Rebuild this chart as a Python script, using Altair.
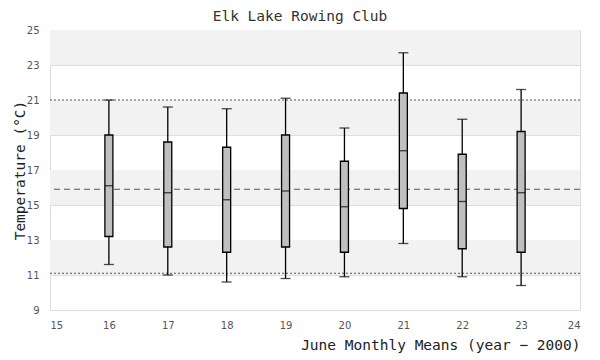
import altair as alt
import pandas as pd

# ---- data ----
years = [16, 17, 18, 19, 20, 21, 22, 23]
whisker_low = [11.6, 11.0, 10.6, 10.8, 10.9, 12.8, 10.9, 10.4]
q1 = [13.2, 12.6, 12.3, 12.6, 12.3, 14.8, 12.5, 12.3]
median = [16.1, 15.7, 15.3, 15.8, 14.9, 18.1, 15.2, 15.7]
q3 = [19.0, 18.6, 18.3, 19.0, 17.5, 21.4, 17.9, 19.2]
whisker_high = [21.0, 20.6, 20.5, 21.1, 19.4, 23.7, 19.9, 21.6]
overall_mean = [15.9]
bound_lines = [21.0, 11.1]
band_lo = [23, 19, 15, 11]
band_hi = [25, 21, 17, 13]
x_ticks = list(range(15, 25))
y_ticks = list(range(9, 26, 2))
x_domain = [15, 24]
y_domain = [9, 25]

MONO = "DejaVu Sans Mono"
SANS = "DejaVu Sans"

df = pd.DataFrame({"year": years, "lo": whisker_low, "q1": q1, "med": median,
                   "q3": q3, "hi": whisker_high})
bands = pd.DataFrame({"y": band_lo, "y2": band_hi,
                      "x": [x_domain[0]] * len(band_lo), "x2": [x_domain[1]] * len(band_lo)})
mean_df = pd.DataFrame({"v": overall_mean})
bound_df = pd.DataFrame({"v": bound_lines})

xs = alt.Scale(domain=x_domain, nice=False, zero=False, padding=0)
ys = alt.Scale(domain=y_domain, nice=False, zero=False, padding=0)

X_TITLE = "June Monthly Means (year \u2212 2000)"
Y_TITLE = "Temperature (\u00b0C)"

xaxis = alt.Axis(values=x_ticks, domain=False, ticks=False, tickSize=0, grid=False,
                 labelFont=SANS, labelFontSize=10, labelColor="#555",
                 labelPadding=10, titleFont=MONO, titleFontSize=14.5,
                 titleFontWeight="normal", titleColor="#222",
                 titleAnchor="end", titlePadding=8)
yaxis = alt.Axis(values=y_ticks, domain=False, ticks=False, tickSize=0, grid=True,
                 gridColor="#dddddd", gridWidth=1,
                 labelFont=SANS, labelFontSize=10, labelColor="#555",
                 labelPadding=11, titleFont=MONO, titleFontSize=14.5,
                 titleFontWeight="normal", titleColor="#222",
                 titlePadding=-1)


def X(field):
    return alt.X(field, scale=xs, axis=xaxis, title=X_TITLE)


def Y(field):
    return alt.Y(field, scale=ys, axis=yaxis, title=Y_TITLE)


band_layer = alt.Chart(bands).mark_rect(color="#f2f2f2").encode(
    x=X("x:Q"), x2="x2:Q", y=Y("y:Q"), y2="y2:Q",
)

bound_layer = alt.Chart(bound_df).mark_rule(color="#555", strokeDash=[2, 2], strokeWidth=1).encode(
    y=Y("v:Q")
)
mean_layer = alt.Chart(mean_df).mark_rule(color="#555", strokeDash=[6, 4], strokeWidth=1).encode(
    y=Y("v:Q")
)

whisk = alt.Chart(df).mark_rule(color="black", strokeWidth=1.3).encode(
    x=X("year:Q"), y=Y("lo:Q"), y2="hi:Q",
)
box = alt.Chart(df).mark_bar(size=8, fill="#bfbfbf", stroke="black", strokeWidth=1.3).encode(
    x=X("year:Q"), y=Y("q1:Q"), y2="q3:Q",
)


def tick(field, size):
    return alt.Chart(df).mark_tick(orient="horizontal", size=size, thickness=1.3, color="black").encode(
        x=X("year:Q"), y=Y(f"{field}:Q"),
    )


chart = alt.layer(band_layer, bound_layer, mean_layer, whisk, box,
                  tick("med", 8), tick("lo", 10), tick("hi", 10)).properties(
    width=530, height=280,
    title=alt.TitleParams("Elk Lake Rowing Club", font=MONO, fontSize=14.5,
                          fontWeight="normal", color="#333", anchor="middle",
                          dx=-15, offset=1),
    autosize=alt.AutoSizeParams(type="none"),
    padding={"left": 42, "top": 22, "right": 12, "bottom": 50},
).configure_view(stroke="#dddddd", strokeWidth=1).configure(background="white")

chart.save("out.html", embed_options={"renderer": "svg", "actions": False})
